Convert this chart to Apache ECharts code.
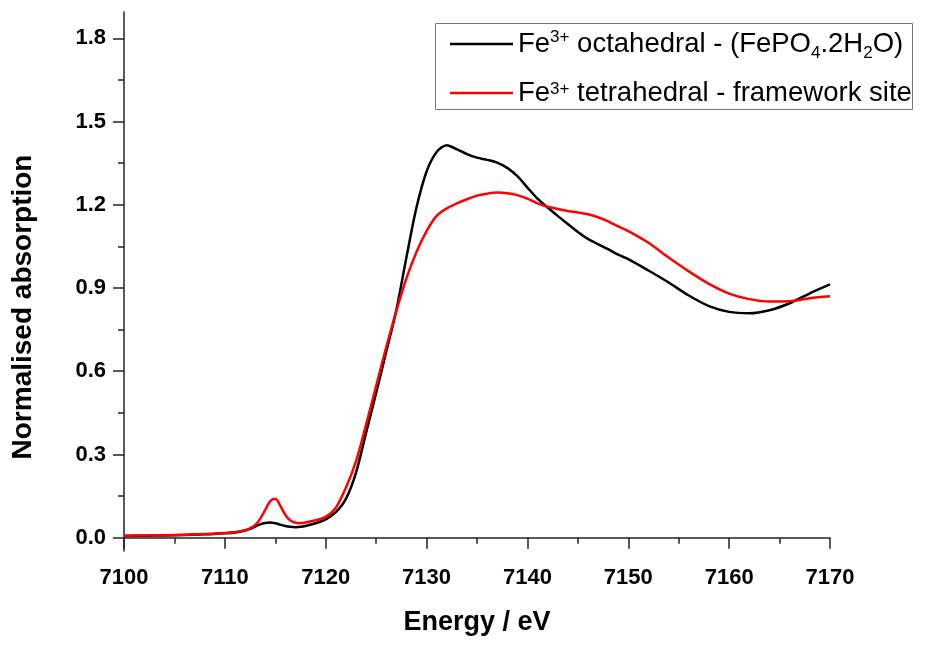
<!DOCTYPE html>
<html>
<head>
<meta charset="utf-8">
<script src="https://cdn.jsdelivr.net/npm/echarts@6/dist/echarts.min.js"></script>
<style>
html, body { margin: 0; padding: 0; background: #fff; }
#container { width: 926px; height: 648px; }
</style>
</head>
<body>
<div id="container"></div>
<script>
var energy = [7100, 7102, 7104, 7106, 7108, 7110, 7111, 7112, 7112.5, 7113, 7113.5, 7114, 7114.5, 7115, 7115.5, 7116, 7116.5, 7117, 7117.5, 7118, 7119, 7120, 7121, 7122, 7123, 7124, 7125, 7126, 7127, 7128, 7129, 7130, 7131, 7132, 7133, 7134, 7135, 7136, 7137, 7138, 7139, 7140, 7141, 7142, 7143, 7144, 7145, 7146, 7147, 7148, 7149, 7150, 7152, 7154, 7156, 7158, 7160, 7162, 7164, 7166, 7168, 7170];
var octahedral = [0.006, 0.007, 0.008, 0.010, 0.012, 0.016, 0.019, 0.026, 0.032, 0.040, 0.048, 0.053, 0.055, 0.052, 0.047, 0.042, 0.039, 0.038, 0.039, 0.042, 0.052, 0.066, 0.092, 0.140, 0.234, 0.378, 0.522, 0.670, 0.820, 1.010, 1.190, 1.320, 1.390, 1.415, 1.400, 1.383, 1.370, 1.362, 1.352, 1.333, 1.303, 1.262, 1.222, 1.190, 1.160, 1.131, 1.102, 1.077, 1.058, 1.040, 1.020, 1.004, 0.963, 0.920, 0.873, 0.835, 0.814, 0.809, 0.820, 0.845, 0.881, 0.913];
var tetrahedral = [0.007, 0.008, 0.009, 0.011, 0.013, 0.017, 0.020, 0.027, 0.034, 0.045, 0.068, 0.100, 0.132, 0.140, 0.115, 0.082, 0.062, 0.054, 0.053, 0.055, 0.063, 0.075, 0.108, 0.180, 0.275, 0.407, 0.547, 0.686, 0.817, 0.935, 1.030, 1.105, 1.160, 1.187, 1.205, 1.220, 1.233, 1.240, 1.244, 1.242, 1.235, 1.222, 1.205, 1.193, 1.185, 1.178, 1.172, 1.166, 1.155, 1.140, 1.122, 1.105, 1.063, 1.010, 0.960, 0.915, 0.880, 0.860, 0.851, 0.852, 0.863, 0.870];
var yTicks = [0.0, 0.3, 0.6, 0.9, 1.2, 1.5, 1.8];
var yMinorTicks = [0.15, 0.45, 0.75, 1.05, 1.35, 1.65];
var seriesNames = ['octahedral', 'tetrahedral'];
var legendLabels = {
  octahedral: 'Fe{sup|3+} octahedral - (FePO{sub|4}.2H{sub|2}O)',
  tetrahedral: 'Fe{sup|3+} tetrahedral - framework site'
};

function pairs(xs, ys) {
  return xs.map(function (x, i) { return [x, ys[i]]; });
}

var font = 'Liberation Sans, Arial, sans-serif';
var dom = document.getElementById('container');
var myChart = echarts.init(dom, null, { renderer: 'canvas' });

var option = {
  animation: false,
  backgroundColor: '#fff',
  grid: { left: 124, top: 12, right: 96, bottom: 97 },
  graphic: [
    {
      type: 'rect',
      shape: { x: 435.5, y: 23.5, width: 477, height: 86 },
      style: { fill: 'none', stroke: '#777', lineWidth: 1 }
    },
    {
      type: 'text',
      x: 23, y: 307,
      rotation: Math.PI / 2,
      style: {
        text: 'Normalised absorption',
        font: 'bold 28px ' + font,
        fill: '#000',
        align: 'center',
        verticalAlign: 'middle'
      }
    }
  ],
  legend: {
    orient: 'vertical',
    left: 450,
    top: 26,
    padding: 0,
    icon: 'rect',
    itemWidth: 63,
    itemHeight: 2.5,
    itemGap: 16,
    data: seriesNames,
    formatter: function (name) { return legendLabels[name]; },
    textStyle: {
      fontFamily: font,
      fontSize: 27.5,
      color: '#000',
      lineHeight: 30,
      rich: {
        sup: { fontSize: 17, fontFamily: font, color: '#000', verticalAlign: 'top', lineHeight: 14, padding: [3, 0, 0, 0] },
        sub: { fontSize: 17, fontFamily: font, color: '#000', verticalAlign: 'bottom', lineHeight: 36 }
      }
    }
  },
  xAxis: {
    type: 'value',
    min: 7100,
    max: 7170,
    interval: 10,
    name: 'Energy / eV',
    nameLocation: 'middle',
    nameGap: 58,
    nameTextStyle: { fontFamily: font, fontWeight: 'bold', fontSize: 27, color: '#000' },
    splitLine: { show: false },
    axisLine: { lineStyle: { color: '#222', width: 1.5 } },
    axisTick: { length: 11, lineStyle: { color: '#222', width: 1.5 } },
    minorTick: { show: true, splitNumber: 2, length: 6, lineStyle: { color: '#222', width: 1.5 } },
    axisLabel: {
      fontFamily: font, fontWeight: 'bold', fontSize: 22, color: '#000', margin: 16,
      formatter: function (v) { return String(v); }
    }
  },
  yAxis: [
    {
      type: 'value',
      min: -0.048,
      max: 1.895,
      splitLine: { show: false },
      axisLine: { show: true, lineStyle: { color: '#222', width: 1.5 } },
      axisTick: { show: true, length: 11, customValues: yTicks, lineStyle: { color: '#222', width: 1.5 } },
      axisLabel: {
        fontFamily: font, fontWeight: 'bold', fontSize: 22, color: '#000', margin: 18,
        customValues: yTicks,
        formatter: function (v) { return v.toFixed(1); }
      }
    },
    {
      type: 'value',
      position: 'left',
      min: -0.048,
      max: 1.895,
      splitLine: { show: false },
      axisLine: { show: false },
      axisTick: { show: true, length: 6, customValues: yMinorTicks, lineStyle: { color: '#222', width: 1.5 } },
      axisLabel: { show: false, customValues: yMinorTicks }
    }
  ],
  series: [
    {
      name: seriesNames[0],
      type: 'line',
      data: pairs(energy, octahedral),
      symbol: 'none',
      smooth: 0.3,
      color: '#000',
      lineStyle: { color: '#000', width: 2.5 }
    },
    {
      name: seriesNames[1],
      type: 'line',
      data: pairs(energy, tetrahedral),
      symbol: 'none',
      smooth: 0.3,
      color: '#ff0000',
      lineStyle: { color: '#ff0000', width: 2.5 }
    }
  ]
};

myChart.setOption(option);
window.addEventListener('resize', myChart.resize);
</script>
</body>
</html>
